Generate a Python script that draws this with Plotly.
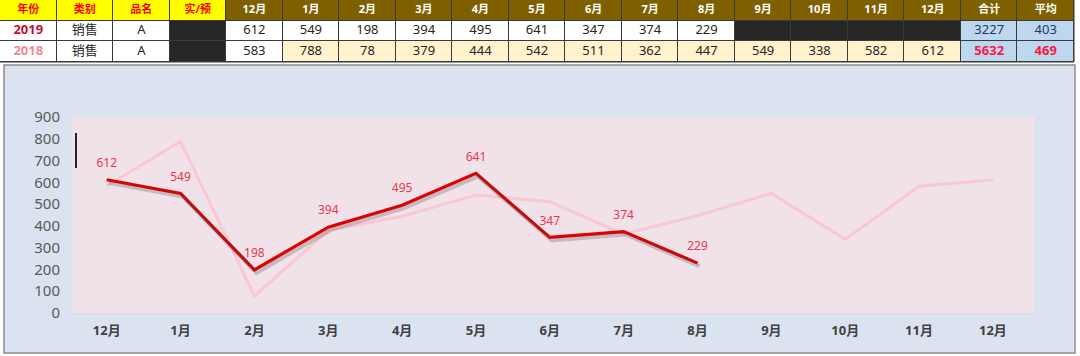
import plotly.graph_objects as go

# ---------------- data ----------------
months = ["12月", "1月", "2月", "3月", "4月", "5月", "6月", "7月", "8月",
          "9月", "10月", "11月", "12月"]
sales_2019 = [612, 549, 198, 394, 495, 641, 347, 374, 229]
sales_2018 = [583, 788, 78, 379, 444, 542, 511, 362, 447, 549, 338, 582, 612]
years = ["2019", "2018"]
category = ["销售", "销售"]
product = ["A", "A"]
totals = [3227, 5632]
averages = [403, 469]
head_left = ["年份", "类别", "品名", "实/预"]
head_right = ["合计", "平均"]

W, H = 1080, 356
FONT = "Noto Sans, Noto Sans CJK SC, sans-serif"


def px_x(p):
    return p / W


def px_y(p):
    return 1 - p / H


# ---------------- table as a grid (heatmap + text) ----------------
n_m = len(months)
headers = head_left + months + head_right
n_c = len(headers)

cell_fill = [[], [], []]     # rows: header, 2019, 2018
cell_text = [[], [], []]
cell_color = [[], [], []]
cell_size = [[], [], []]

for j, h in enumerate(headers):
    left = j < 4
    cell_fill[0].append("#FFFF00" if left else "#7F6000")
    cell_text[0].append(f"<b>{h}</b>")
    cell_color[0].append("#FF0000" if left else "#FFFFFF")
    cell_size[0].append(11)

row_left = [
    [f"<b>{years[0]}</b>", category[0], product[0], ""],
    [f"<b>{years[1]}</b>", category[1], product[1], ""],
]
left_colors = [["#C8102E", "#262626", "#262626", "#262626"],
               ["#F08C98", "#262626", "#262626", "#262626"]]
for r in range(2):
    for j in range(4):
        cell_fill[r + 1].append("#262626" if j == 3 else "#FFFFFF")
        cell_text[r + 1].append(row_left[r][j])
        cell_color[r + 1].append(left_colors[r][j])
        cell_size[r + 1].append(13)

for i in range(n_m):
    has19 = i < len(sales_2019)
    cell_fill[1].append("#FFFFFF" if has19 else "#262626")
    cell_text[1].append(str(sales_2019[i]) if has19 else "")
    cell_color[1].append("#262626")
    cell_size[1].append(13)
    cell_fill[2].append("#FFFFFF" if i == 0 else "#FFF2CC")
    cell_text[2].append(str(sales_2018[i]))
    cell_color[2].append("#262626")
    cell_size[2].append(13)

for vals in (totals, averages):
    cell_fill[1].append("#BDD7EE")
    cell_text[1].append(str(vals[0]))
    cell_color[1].append("#1F3864")
    cell_size[1].append(13)
    cell_fill[2].append("#BDD7EE")
    cell_text[2].append(f"<b>{vals[1]}</b>")
    cell_color[2].append("#FF1744")
    cell_size[2].append(13)

palette = []
for row in cell_fill:
    for c in row:
        if c not in palette:
            palette.append(c)
N = len(palette)
colorscale = []
for k, c in enumerate(palette):
    colorscale.append([k / N, c])
    colorscale.append([(k + 1) / N, c])
z = [[palette.index(c) + 0.5 for c in row] for row in cell_fill]

fig = go.Figure()

# chart box background
fig.add_shape(type="rect", xref="paper", yref="paper",
              x0=px_x(4), x1=px_x(1075), y0=px_y(353), y1=px_y(65),
              fillcolor="#DCE3F0", line=dict(color="#8C8C8C", width=1.5),
              layer="below")

fig.add_trace(go.Heatmap(z=z, x=list(range(n_c)), y=[0, 1, 2], zmin=0, zmax=N,
                         colorscale=colorscale, showscale=False, xgap=1, ygap=1,
                         hoverinfo="skip", xaxis="x3", yaxis="y3"))
tx, ty, tt, tc, ts = [], [], [], [], []
for r in range(3):
    for j in range(n_c):
        if cell_text[r][j]:
            tx.append(j)
            ty.append(r)
            tt.append(cell_text[r][j])
            tc.append(cell_color[r][j])
            ts.append(cell_size[r][j])
fig.add_trace(go.Scatter(x=tx, y=ty, text=tt, mode="text",
                         textfont=dict(color=tc, size=ts, family=FONT),
                         hoverinfo="skip", showlegend=False,
                         xaxis="x3", yaxis="y3"))

# ---------------- chart ----------------
xpos = list(range(n_m))

# shadow of the 2019 line (shifted subplot)
fig.add_trace(go.Scatter(x=xpos[:len(sales_2019)], y=sales_2019, mode="lines",
                         line=dict(color="rgba(70,70,70,0.25)", width=4),
                         xaxis="x2", yaxis="y2", hoverinfo="skip", showlegend=False))

fig.add_trace(go.Scatter(x=xpos, y=sales_2018, mode="lines",
                         line=dict(color="rgba(250,196,206,0.85)", width=3),
                         name="2018", showlegend=False))
fig.add_trace(go.Scatter(x=xpos[:len(sales_2019)], y=sales_2019,
                         mode="lines+markers+text",
                         line=dict(color="#E00000", width=3.2),
                         marker=dict(size=14, color="rgba(0,0,0,0)"),
                         text=[str(v) for v in sales_2019], textposition="top center",
                         textfont=dict(color="#E8384F", size=12, family=FONT),
                         name="2019", showlegend=False))

xr = [-0.47, 12.57]
xd = [px_x(72), px_x(1035)]
yd = [px_y(313), px_y(117)]
fig.update_layout(
    width=W, height=H,
    margin=dict(l=0, r=0, t=0, b=0, pad=0, autoexpand=False),
    paper_bgcolor="#FFFFFF",
    plot_bgcolor="rgba(0,0,0,0)",
    font=dict(family=FONT),
    hovermode=False,
    xaxis=dict(domain=xd, range=xr, tickmode="array", tickvals=xpos,
               ticktext=[f"<b>{m}</b>" for m in months],
               tickfont=dict(size=13, color="#404040", family=FONT),
               showgrid=False, zeroline=False, showline=True, automargin=False,
               linecolor="#E6D6E0", linewidth=1, ticks="", ticklabelstandoff=5),
    yaxis=dict(domain=yd, range=[0, 900], dtick=100, showgrid=False, automargin=False,
               zeroline=False, tickfont=dict(size=15, color="#595959", family=FONT),
               ticks="", ticklabelstandoff=11),
    xaxis2=dict(domain=[xd[0] + px_x(2), xd[1] + px_x(2)], range=xr, visible=False,
                anchor="y2", automargin=False),
    yaxis2=dict(domain=[yd[0] - 3 / H, yd[1] - 3 / H], range=[0, 900], visible=False,
                anchor="x2", automargin=False),
    xaxis3=dict(domain=[0, px_x(1074)], range=[-0.5, n_c - 0.5], visible=False,
                anchor="y3", automargin=False),
    yaxis3=dict(domain=[px_y(62), 1], range=[2.5, -0.5], visible=False,
                anchor="x3", automargin=False),
)

# dark grid lines behind the table cells
fig.add_shape(type="rect", xref="x3 domain", yref="y3 domain", x0=0, x1=1, y0=0, y1=1,
              fillcolor="#3A3A3A", line=dict(color="#3A3A3A", width=1), layer="below")

# pink plotting area
fig.add_shape(type="rect", xref="x domain", yref="y domain", x0=0, x1=1, y0=0, y1=1,
              fillcolor="#F1E1E9", line=dict(width=0), layer="below")

# small vertical cursor mark
fig.add_shape(type="line", xref="paper", yref="paper",
              x0=px_x(76), x1=px_x(76), y0=px_y(168), y1=px_y(133),
              line=dict(color="#262626", width=2))

fig.write_html("out.html",
               config={"displayModeBar": False, "staticPlot": True},
               post_script="document.body.style.margin='0';document.body.style.overflow='hidden';")
